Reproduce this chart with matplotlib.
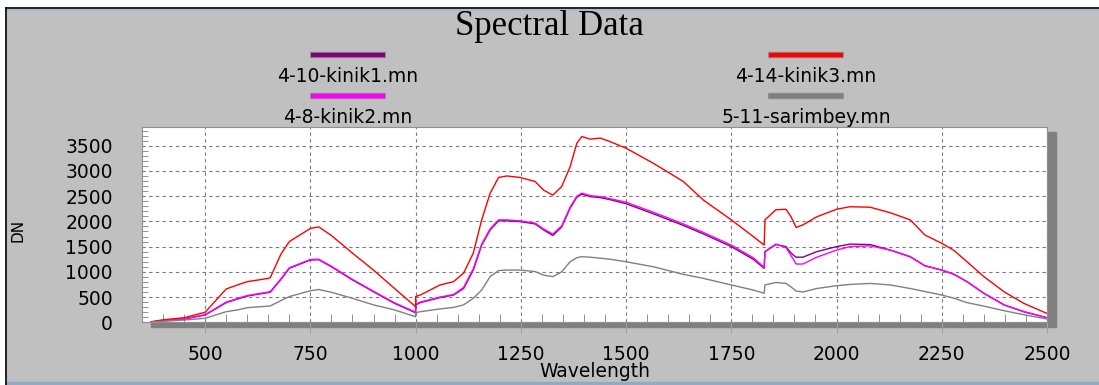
"""Spectral Data: four field spectra (DN vs wavelength), styled like the
old spectrometer software window."""
import matplotlib
matplotlib.use("Agg")
import matplotlib.pyplot as plt
from matplotlib.patches import Rectangle
from matplotlib.lines import Line2D
from matplotlib.ticker import MultipleLocator

# wavelength grid (nm); 1000 and 1830 repeated = detector splice jumps
wl = [371, 400, 450, 500, 550, 580, 600, 650, 655, 680,
      700, 750, 770, 800, 850, 900, 950, 1000, 1000, 1011,
      1058, 1090, 1114, 1137, 1157, 1177, 1197, 1217, 1248, 1284,
      1304, 1326, 1347, 1367, 1383, 1395, 1415, 1439, 1462, 1500,
      1565, 1636, 1684, 1750, 1802, 1828, 1830, 1856, 1880, 1892,
      1904, 1920, 1953, 2000, 2032, 2080, 2128, 2175, 2210, 2250,
      2278, 2310, 2350, 2398, 2445, 2500]

kinik1 = [5, 30, 65, 145, 390, 470, 520, 590, 600, 850,
          1070, 1235, 1240, 1100, 840, 605, 375, 190, 345, 390,
          490, 540, 670, 1035, 1530, 1830, 2010, 2010, 1995, 1950,
          1830, 1720, 1890, 2260, 2480, 2540, 2490, 2470, 2430, 2350,
          2150, 1920, 1750, 1500, 1250, 1070, 1400, 1540, 1500, 1370,
          1290, 1290, 1400, 1500, 1550, 1540, 1430, 1300, 1120, 1035,
          955, 805, 575, 345, 210, 90]

kinik2 = [5, 30, 70, 150, 400, 480, 530, 600, 610, 860,
          1080, 1245, 1250, 1110, 850, 615, 385, 200, 360, 400,
          500, 550, 690, 1060, 1550, 1850, 2030, 2030, 2010, 1965,
          1850, 1750, 1910, 2280, 2500, 2560, 2510, 2490, 2450, 2380,
          2180, 1950, 1780, 1530, 1280, 1090, 1400, 1550, 1480, 1320,
          1155, 1155, 1290, 1430, 1500, 1515, 1430, 1300, 1120, 1035,
          955, 805, 575, 345, 210, 90]

kinik3 = [10, 50, 90, 200, 660, 750, 805, 870, 890, 1350,
          1600, 1860, 1890, 1720, 1370, 1035, 670, 310, 510, 540,
          740, 805, 975, 1370, 2030, 2555, 2870, 2900, 2870, 2790,
          2620, 2520, 2690, 3080, 3550, 3680, 3630, 3650, 3580, 3450,
          3150, 2790, 2420, 2030, 1700, 1530, 2030, 2230, 2240, 2090,
          1880, 1930, 2090, 2240, 2290, 2280, 2170, 2030, 1730, 1565,
          1430, 1200, 905, 605, 375, 175]

sarimbey = [5, 20, 45, 80, 210, 250, 290, 320, 325, 430,
            510, 625, 650, 595, 475, 345, 245, 110, 190, 210,
            265, 295, 345, 475, 640, 905, 1025, 1035, 1035, 1005,
            935, 905, 1000, 1200, 1280, 1300, 1290, 1270, 1250, 1200,
            1100, 950, 870, 740, 640, 575, 740, 790, 770, 700,
            620, 600, 670, 725, 750, 770, 740, 670, 610, 540,
            480, 390, 320, 230, 150, 65]

names = ["4-10-kinik1.mn", "4-8-kinik2.mn", "4-14-kinik3.mn", "5-11-sarimbey.mn"]
series = [kinik1, kinik2, kinik3, sarimbey]
colors = ["#800080", "#ff00ff", "#ff0000", "#808080"]

W, H = 1099, 385
fig = plt.figure(figsize=(W / 100, H / 100), dpi=100, facecolor="#c0c0c0")

# window frame bits
fig.add_artist(Rectangle((0, 1 - 7 / H), 1, 7 / H, transform=fig.transFigure,
                         color="white", zorder=0))
fig.add_artist(Rectangle((0, 0), 5 / W, 1, transform=fig.transFigure,
                         color="white", zorder=0))
fig.add_artist(Line2D([5.5 / W, 1], [1 - 7.5 / H] * 2, transform=fig.transFigure,
                      color="black", lw=1.2))
fig.add_artist(Line2D([6 / W, 1], [1 - 9.5 / H] * 2, transform=fig.transFigure,
                      color="#a8bcd6", lw=1.5))
fig.add_artist(Line2D([5.5 / W] * 2, [0, 1 - 7.5 / H], transform=fig.transFigure,
                      color="black", lw=1.2))
fig.add_artist(Rectangle((6 / W, 0), 1, 3 / H, transform=fig.transFigure,
                         color="#93a9c4", zorder=0))

# plot area + drop shadow
x0, y0, w, h = 142 / W, 1 - 322.3 / H, 905 / W, 195.3 / H
fig.add_artist(Rectangle((x0 + 9 / W, y0 - 5 / H), w, h, transform=fig.transFigure,
                         color="#808080", zorder=0))
ax = fig.add_axes([x0, y0, w, h])
ax.set_facecolor("white")

for vals, c in zip(series, colors):
    ax.plot(wl, vals, color=c, lw=1.0)

ax.set_xlim(350, 2500)
ax.set_ylim(0, 3870)
ax.xaxis.set_major_locator(MultipleLocator(250))
ax.xaxis.set_minor_locator(MultipleLocator(50))
ax.yaxis.set_major_locator(MultipleLocator(500))
ax.yaxis.set_minor_locator(MultipleLocator(100))
ax.set_xticks([500, 750, 1000, 1250, 1500, 1750, 2000, 2250, 2500])
ax.grid(True, which="major", color="#7a7a7a", ls=(0, (3, 3)), lw=0.8)
ax.tick_params(axis="x", which="major", direction="out", length=8, color="#a0a0a0",
               pad=8, labelsize=13.5)
ax.tick_params(axis="x", which="minor", direction="in", length=6, color="#808080")
ax.tick_params(axis="y", which="major", length=0, pad=21, labelsize=13.5)
ax.tick_params(axis="y", which="minor", direction="in", length=4, color="#808080")
for s in ax.spines.values():
    s.set_color("#909090")
    s.set_linewidth(0.8)

ax.set_xlabel("Wavelength", fontsize=13.5, va="center")
ax.xaxis.set_label_coords(0.5, -0.253)
ax.set_ylabel("DN", fontsize=11, va="center")
ax.yaxis.set_label_coords(-0.137, 0.47)

fig.text(0.5, 1 - 35 / H, "Spectral Data", family="Liberation Serif", fontsize=25,
         ha="center", va="baseline")

# legend: swatch above label, two columns
cols_x = [348 / W, 348 / W, 806 / W, 806 / W]
line_y = [55, 96, 55, 96]
text_y = [77, 117.5, 77, 117.5]
for name, c, cx, ly, ty in zip(names, colors, cols_x, line_y, text_y):
    xs = [cx - 38 / W, cx + 38 / W]
    fig.add_artist(Line2D(xs, [1 - ly / H] * 2, transform=fig.transFigure,
                          color="#909090", lw=4.6, solid_capstyle="butt"))
    fig.add_artist(Line2D([xs[0] + 1 / W, xs[1] - 1 / W], [1 - ly / H] * 2,
                          transform=fig.transFigure, color=c, lw=3.2,
                          solid_capstyle="butt"))
    fig.text(cx, 1 - ty / H, name, fontsize=13.5, ha="center", va="center")

fig.savefig("out.png", dpi=100, facecolor=fig.get_facecolor())
